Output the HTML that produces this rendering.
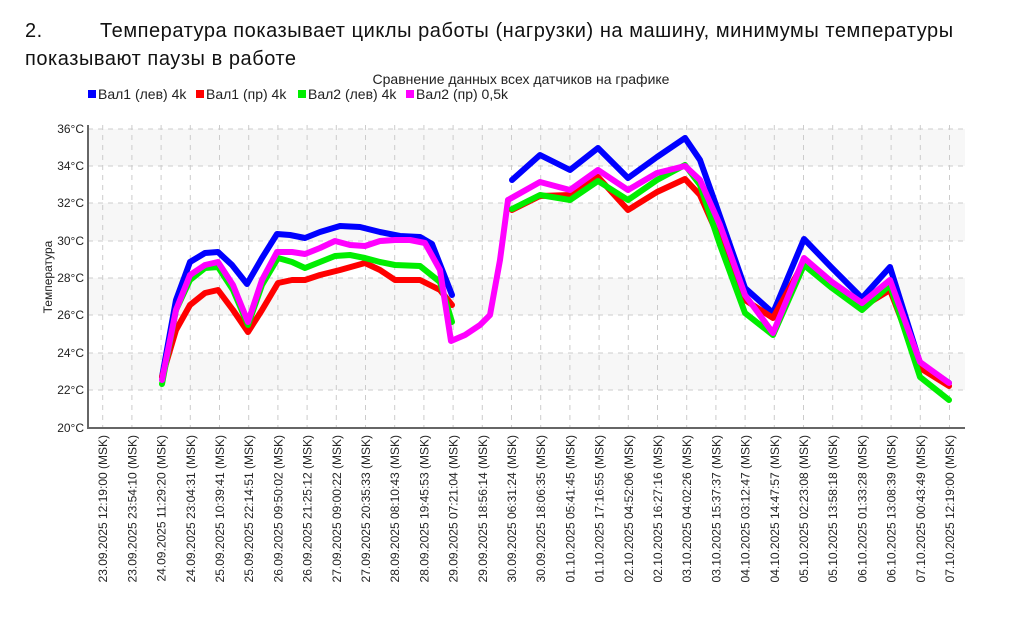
<!DOCTYPE html>
<html><head><meta charset="utf-8"><style>
body{margin:0;background:#fff;width:1023px;height:628px;overflow:hidden;font-family:"Liberation Sans",sans-serif}
.t{position:absolute;font-family:"Liberation Sans",sans-serif;font-size:20px;letter-spacing:0.55px;color:#111;white-space:nowrap}
</style></head><body>
<div class="t" style="left:25px;top:20px">2.</div>
<div class="t" style="left:100px;top:20px">Температура показывает циклы работы (нагрузки) на машину, минимумы температуры</div>
<div class="t" style="left:25px;top:48px">показывают паузы в работе</div>
<svg width="1023" height="628" style="position:absolute;left:0;top:0" font-family="Liberation Sans, sans-serif">
<text x="521" y="84" font-size="14" text-anchor="middle" fill="#222">Сравнение данных всех датчиков на графике</text>
<g font-size="14" fill="#222">
<rect x="88" y="90" width="8" height="8" fill="#0000ff"/><text x="98" y="99">Вал1 (лев) 4k</text>
<rect x="196" y="90" width="8" height="8" fill="#ff0000"/><text x="206" y="99">Вал1 (пр) 4k</text>
<rect x="298" y="90" width="8" height="8" fill="#00ee00"/><text x="308" y="99">Вал2 (лев) 4k</text>
<rect x="406" y="90" width="8" height="8" fill="#ff00ff"/><text x="416" y="99">Вал2 (пр) 0,5k</text>
</g>
<g fill="#f7f7f7">
<rect x="88" y="129" width="877" height="37"/><rect x="88" y="203" width="877" height="38"/>
<rect x="88" y="278" width="877" height="37"/><rect x="88" y="353" width="877" height="37"/>
</g>
<g stroke="#ccc" stroke-dasharray="5,5" stroke-width="1">
<line x1="88" x2="965" y1="129" y2="129"/><line x1="88" x2="965" y1="166" y2="166"/><line x1="88" x2="965" y1="203" y2="203"/><line x1="88" x2="965" y1="241" y2="241"/><line x1="88" x2="965" y1="278" y2="278"/><line x1="88" x2="965" y1="315" y2="315"/><line x1="88" x2="965" y1="353" y2="353"/><line x1="88" x2="965" y1="390" y2="390"/>
</g>
<g id="vg" stroke="#ccc" stroke-dasharray="5,5" stroke-width="1"></g>
<g font-size="12" fill="#222" text-anchor="end">
<text x="84" y="133">36°C</text><text x="84" y="170">34°C</text><text x="84" y="207">32°C</text><text x="84" y="245">30°C</text><text x="84" y="282">28°C</text><text x="84" y="319">26°C</text><text x="84" y="357">24°C</text><text x="84" y="394">22°C</text><text x="84" y="432">20°C</text>
</g>
<text transform="translate(52,277) rotate(-90)" font-size="12" text-anchor="middle" fill="#222">Температура</text>
<g id="xl" font-size="12" fill="#222" text-anchor="end"></g>
<line x1="88" y1="125" x2="88" y2="428" stroke="#666" stroke-width="2"/>
<line x1="87" y1="428" x2="965" y2="428" stroke="#666" stroke-width="2"/>
<g fill="none" stroke-width="6" stroke-linejoin="round" stroke-linecap="round">
<polyline stroke="#0000ff" points="162,377 176,300 190,262 205,253 218,252 232,265 247,284 262,258 277,234 290,235 305,238 320,232 340,226 360,227 380,232 400,236 420,237 432,244 452,295"/>
<polyline stroke="#ff0000" points="162,377 176,330 190,305 205,293 218,290 233,310 248,332 262,310 278,283 292,280 305,280 320,275 340,270 365,263 380,270 395,280 420,280 440,290 452,305"/>
<polyline stroke="#00ee00" points="162,384 176,310 190,280 205,268 218,267 233,290 248,325 262,285 278,258 292,262 305,268 320,262 335,256 350,255 365,258 380,262 395,265 420,266 440,282 452,322"/>
<polyline stroke="#ff00ff" points="162,380 176,310 190,275 205,265 218,262 233,285 248,322 262,280 277,252 292,252 305,254 320,248 335,241 350,245 365,246 380,241 395,240 410,240 425,243 440,270 451,341 465,335 480,325 490,315 500,260 508,200"/>
<polyline stroke="#0000ff" points="512,180 540,155 570,170 598,148 628,178 657,157 685,138 700,160 716,205 745,288 773,313 804,239 832,268 862,298 890,267 920,363 949,383"/>
<polyline stroke="#ff0000" points="512,210 540,196 570,195 598,177 628,210 657,192 685,179 700,195 720,240 745,300 773,318 804,262 832,285 862,307 890,290 920,368 949,386"/>
<polyline stroke="#00ee00" points="512,209 540,195 570,200 598,181 628,200 657,180 685,165 700,185 720,245 745,313 773,335 804,265 832,288 862,310 890,285 920,377 949,400"/>
<polyline stroke="#ff00ff" points="508,200 540,182 570,190 598,170 628,190 657,173 685,166 700,180 720,225 745,295 773,333 804,258 832,282 862,303 890,280 920,362 949,383"/>
</g>
</svg>
<script>
var labels=["23.09.2025 12:19:00","23.09.2025 23:54:10","24.09.2025 11:29:20","24.09.2025 23:04:31","25.09.2025 10:39:41","25.09.2025 22:14:51","26.09.2025 09:50:02","26.09.2025 21:25:12","27.09.2025 09:00:22","27.09.2025 20:35:33","28.09.2025 08:10:43","28.09.2025 19:45:53","29.09.2025 07:21:04","29.09.2025 18:56:14","30.09.2025 06:31:24","30.09.2025 18:06:35","01.10.2025 05:41:45","01.10.2025 17:16:55","02.10.2025 04:52:06","02.10.2025 16:27:16","03.10.2025 04:02:26","03.10.2025 15:37:37","04.10.2025 03:12:47","04.10.2025 14:47:57","05.10.2025 02:23:08","05.10.2025 13:58:18","06.10.2025 01:33:28","06.10.2025 13:08:39","07.10.2025 00:43:49","07.10.2025 12:19:00"];
var ns="http://www.w3.org/2000/svg",vg=document.getElementById("vg"),xl=document.getElementById("xl");
labels.forEach(function(l,i){var x=102.7+29.2*i;
var ln=document.createElementNS(ns,"line");ln.setAttribute("x1",x);ln.setAttribute("x2",x);ln.setAttribute("y1",125);ln.setAttribute("y2",428);vg.appendChild(ln);
var t=document.createElementNS(ns,"text");t.setAttribute("transform","translate("+(x+4.5)+",435) rotate(-90)");t.textContent=l+" (MSK)";xl.appendChild(t);});
</script>
</body></html>
